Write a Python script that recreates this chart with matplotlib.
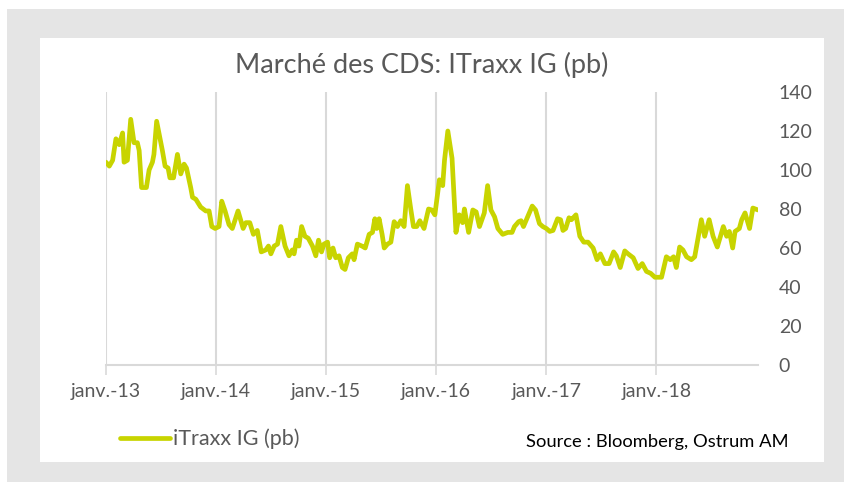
import matplotlib
matplotlib.use("Agg")
import matplotlib.pyplot as plt
from matplotlib.patches import Rectangle
import pandas as pd

dates = [
    "2013-01-01", "2013-01-12", "2013-01-23", "2013-02-03", "2013-02-14", "2013-02-25",
    "2013-03-02", "2013-03-13", "2013-03-24", "2013-04-04", "2013-04-15", "2013-04-21",
    "2013-04-29", "2013-05-15", "2013-05-24", "2013-06-04", "2013-06-09", "2013-06-18",
    "2013-06-28", "2013-07-07", "2013-07-16", "2013-07-26", "2013-08-01", "2013-08-13",
    "2013-08-26", "2013-09-06", "2013-09-17", "2013-09-25", "2013-10-09", "2013-10-15",
    "2013-10-26", "2013-11-11", "2013-11-28", "2013-12-09", "2013-12-18", "2013-12-29",
    "2014-01-11", "2014-01-20", "2014-01-31", "2014-02-13", "2014-02-24", "2014-03-15",
    "2014-04-01", "2014-04-10", "2014-04-23", "2014-05-05", "2014-05-18", "2014-05-31",
    "2014-06-15", "2014-06-24", "2014-07-02", "2014-07-13", "2014-07-24", "2014-08-04",
    "2014-08-18", "2014-08-31", "2014-09-11", "2014-09-17", "2014-09-25", "2014-10-03",
    "2014-10-12", "2014-10-23", "2014-11-03", "2014-11-17", "2014-11-28", "2014-12-07",
    "2014-12-17", "2014-12-25",
    "2015-01-06", "2015-01-13", "2015-01-24", "2015-02-02", "2015-02-13", "2015-02-24",
    "2015-03-05", "2015-03-16", "2015-03-29", "2015-04-04", "2015-04-15", "2015-04-30",
    "2015-05-11", "2015-05-24", "2015-06-04", "2015-06-12", "2015-06-18", "2015-06-26",
    "2015-07-06", "2015-07-13", "2015-07-24", "2015-08-04", "2015-08-15", "2015-08-26",
    "2015-09-06", "2015-09-17", "2015-09-28", "2015-10-09", "2015-10-18", "2015-10-29",
    "2015-11-08", "2015-11-22", "2015-12-07", "2015-12-18", "2015-12-28",
    "2016-01-12", "2016-01-23", "2016-01-29", "2016-02-09", "2016-02-23", "2016-03-07",
    "2016-03-18", "2016-03-29", "2016-04-04", "2016-04-18", "2016-05-02", "2016-05-13",
    "2016-05-24", "2016-06-09", "2016-06-20", "2016-07-01", "2016-07-13", "2016-07-24",
    "2016-08-09", "2016-08-26", "2016-09-09", "2016-09-17", "2016-10-01", "2016-10-09",
    "2016-10-17", "2016-10-31", "2016-11-15", "2016-11-26", "2016-12-09", "2016-12-20",
    "2017-01-01", "2017-01-12", "2017-01-23", "2017-02-07", "2017-02-17", "2017-02-25",
    "2017-03-06", "2017-03-17", "2017-03-25", "2017-04-09", "2017-04-22", "2017-05-05",
    "2017-05-19", "2017-06-05", "2017-06-18", "2017-06-29", "2017-07-14", "2017-07-28",
    "2017-08-12", "2017-08-21", "2017-09-03", "2017-09-18", "2017-09-29", "2017-10-16",
    "2017-11-01", "2017-11-15", "2017-11-29", "2017-12-13", "2017-12-27",
    "2018-01-18", "2018-02-03", "2018-02-16", "2018-02-27", "2018-03-08", "2018-03-19",
    "2018-03-30", "2018-04-11", "2018-04-27", "2018-05-08", "2018-05-19", "2018-05-30",
    "2018-06-10", "2018-06-25", "2018-07-08", "2018-07-22", "2018-08-11", "2018-08-22",
    "2018-08-31", "2018-09-11", "2018-09-19", "2018-10-03", "2018-10-11", "2018-10-22",
    "2018-11-06", "2018-11-17", "2018-12-04",
]
itraxx = [
    104, 102, 105, 116, 113, 119,
    104, 105, 126, 114, 114, 110,
    91, 91, 100, 104, 108, 125,
    117, 110, 102, 101, 96, 96,
    108, 98, 103, 101, 91, 86,
    85, 81, 79, 79, 71, 70,
    71, 84, 79, 72, 70, 79,
    70, 73, 73, 67, 69, 58,
    59, 61, 57, 61, 62, 71,
    61, 56, 59, 57, 64, 61,
    71, 66, 65, 61, 56, 64,
    58, 62,
    63, 55, 60, 55, 56, 50,
    49, 55, 57, 54, 62, 61,
    60, 67, 68, 75, 70, 75,
    67, 60, 62, 63, 73.5, 71,
    74, 71, 92, 80, 71, 71,
    74, 70, 80, 79.5, 77,
    95, 92, 105, 120, 106, 68,
    77, 73, 80, 68, 79.5, 78.5,
    71, 78, 92, 79.5, 76, 70,
    67, 68, 68, 71, 73.5, 74,
    71, 76, 81.5, 79.5, 72.5, 71,
    70, 68.5, 69, 75, 74.5, 69,
    70, 75.5, 74.5, 77, 66, 63,
    63, 60, 54, 57, 52, 52,
    58, 56, 50, 58.5, 57, 55,
    49.5, 52, 48, 47, 45,
    45, 55.5, 54, 55.5, 50, 60.5,
    59, 55.5, 54, 55.5, 65, 74.5,
    66, 74.5, 66, 60.5, 71, 66,
    68.5, 60, 68.5, 70, 74.5, 78,
    70, 80.5, 79.5,
]
year_labels = ["janv.-13", "janv.-14", "janv.-15", "janv.-16", "janv.-17", "janv.-18"]
y_ticks = [0, 20, 40, 60, 80, 100, 120, 140]

W, H = 844, 482
LIME = "#c8d400"
GREY_TXT = "#595959"
GRID = "#d9d9d9"

plt.rcParams["font.family"] = ["Lato", "DejaVu Sans"]

x = pd.to_datetime(dates)

fig = plt.figure(figsize=(W / 100, H / 100), dpi=100, facecolor="white")

# grey frame and white panel (pixel coords -> figure fraction)
def px_rect(x0, y0, x1, y1, color):
    fig.add_artist(Rectangle((x0 / W, 1 - y1 / H), (x1 - x0) / W, (y1 - y0) / H,
                             transform=fig.transFigure, facecolor=color,
                             edgecolor="none", zorder=-10))

px_rect(7, 9, W, H, "#e5e5e5")
px_rect(40, 38, 824, 462, "white")

ax = fig.add_axes([106 / W, 1 - 365 / H, (758 - 106) / W, (365 - 92) / H])
ax.set_facecolor("none")

line, = ax.plot(x, itraxx, color=LIME, lw=3.4, solid_joinstyle="round",
                solid_capstyle="round", label="iTraxx IG (pb)")

ax.set_xlim(pd.Timestamp("2013-01-01"), x[-1])
ax.set_ylim(0, 140)

year_ticks = pd.to_datetime([f"20{l[-2:]}-01-01" for l in year_labels])
ax.set_xticks(year_ticks)
ax.set_xticklabels(year_labels)
ax.set_yticks(y_ticks)

ax.yaxis.tick_right()
ax.tick_params(axis="y", length=0, pad=15, labelsize=14, labelcolor=GREY_TXT)
ax.tick_params(axis="x", length=7, width=1.2, color=GRID, pad=6,
               labelsize=14, labelcolor=GREY_TXT)
for lab in ax.get_yticklabels():
    lab.set_horizontalalignment("left")

ax.grid(axis="x", color=GRID, lw=1.5)
ax.set_axisbelow(True)
for s in ["top", "left", "right"]:
    ax.spines[s].set_visible(False)
ax.spines["bottom"].set_color(GRID)
ax.spines["bottom"].set_linewidth(1.5)

fig.text(0.5, 1 - 65 / H, "Marché des CDS: ITraxx IG (pb)", ha="center", va="center",
         fontsize=19.5, color=GREY_TXT)

ax.legend(handles=[line], loc="center left", bbox_to_anchor=(120 / W, 1 - 439 / H),
          bbox_transform=fig.transFigure, frameon=False, fontsize=15.5,
          handlelength=2.3, handletextpad=0.15, labelcolor=GREY_TXT,
          borderaxespad=0, borderpad=0)

fig.text(788 / W, 1 - 442 / H, "Source : Bloomberg, Ostrum AM", ha="right", va="center",
         fontsize=13.2, color="black")

fig.savefig("out.png", dpi=100, facecolor="white")
